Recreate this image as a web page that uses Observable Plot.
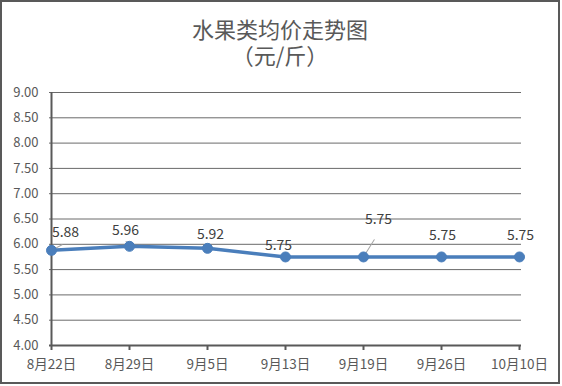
<!DOCTYPE html>
<html>
<head>
<meta charset="utf-8">
<script src="https://cdn.jsdelivr.net/npm/d3@7"></script>
<script src="https://cdn.jsdelivr.net/npm/@observablehq/plot@0.6"></script>
<style>
  html, body { margin: 0; padding: 0; background: #fff; }
  #wrap { position: relative; width: 562px; height: 386px; overflow: hidden; font-family: "Noto Sans CJK SC", "Noto Sans", sans-serif; }
  #frame { position: absolute; left: 0; top: 0; width: 560px; height: 384px; box-sizing: border-box; border: 2px solid #595959; pointer-events: none; }
  .ttl { position: absolute; left: 0; top: 15px; width: 560px; text-align: center; color: #595959; font-size: 22px; line-height: 26px; }
  #chart { position: absolute; left: 0; top: 0; }
</style>
</head>
<body>
<div id="wrap">
  <div id="chart"></div>
  <div class="ttl">水果类均价走势图<br>（元/斤）</div>
  <div id="frame"></div>
</div>
<script>
const dates = ["8月22日", "8月29日", "9月5日", "9月13日", "9月19日", "9月26日", "10月10日"];
const prices = [5.88, 5.96, 5.92, 5.75, 5.75, 5.75, 5.75];
const yTicks = [4, 4.5, 5, 5.5, 6, 6.5, 7, 7.5, 8, 8.5, 9];

// label placement offsets (pixels), styling only
const labelDx = [14, -4, 3, -7, 15, 1, 1];
const labelDy = [-18, -16, -14, -11, -37, -21, -21];
// leader lines: [length px, angle deg] or null
const leaders = [[16, 62], [8, -35], null, null, [27, 32], null, null];

const data = dates.map((d, i) => ({date: d, price: prices[i], dx: labelDx[i], dy: labelDy[i], leader: leaders[i]}));
const leaderData = data.filter(d => d.leader);

const lineShape = {
  draw(context, l) { context.moveTo(0, 0); context.lineTo(0, -l); }
};

const color = "#4a7ebb";
const gray = "#595959";

const plot = Plot.plot({
  width: 562,
  height: 386,
  marginLeft: 49,
  marginRight: 41,
  marginTop: 92,
  marginBottom: 41,
  style: {fontFamily: "'Noto Sans CJK SC', 'Noto Sans', sans-serif", fontSize: "13px", background: "transparent", color: gray},
  x: {type: "point", domain: dates, padding: 0, axis: null, label: null},
  y: {type: "linear", domain: [4, 9], axis: null, label: null},
  marks: [
    Plot.ruleY(yTicks, {stroke: "#6a6a6a", strokeWidth: 1}),
    Plot.ruleY([4], {stroke: gray, strokeWidth: 2}),
    Plot.ruleX([dates[0]], {y1: 4, y2: 9, stroke: gray, strokeWidth: 2}),
    Plot.axisX({ticks: dates, tickSize: 5, tickPadding: 9, stroke: gray, strokeWidth: 2, fill: gray, fontSize: 13.5, label: null}),
    Plot.axisY({ticks: yTicks, tickFormat: d3.format(".2f"), tickSize: 0, tickPadding: 11, fill: gray, fontSize: 13, label: null}),
    Plot.line(data, {x: "date", y: "price", stroke: color, strokeWidth: 3.5, strokeLinejoin: "round", strokeLinecap: "round"}),
    Plot.vector(leaderData, {x: "date", y: "price", length: d => d.leader[0], rotate: d => d.leader[1], anchor: "start", shape: lineShape, stroke: "#a6a6a6", strokeWidth: 1}),
    Plot.dot(data, {x: "date", y: "price", r: 5, fill: color, stroke: color, strokeWidth: 1}),
    ...data.map(d => Plot.text([d], {x: "date", y: "price", text: v => v.price.toFixed(2), dx: d.dx, dy: d.dy, fill: "#404040", fontSize: 14}))
  ]
});
document.getElementById("chart").appendChild(plot);
</script>
</body>
</html>
